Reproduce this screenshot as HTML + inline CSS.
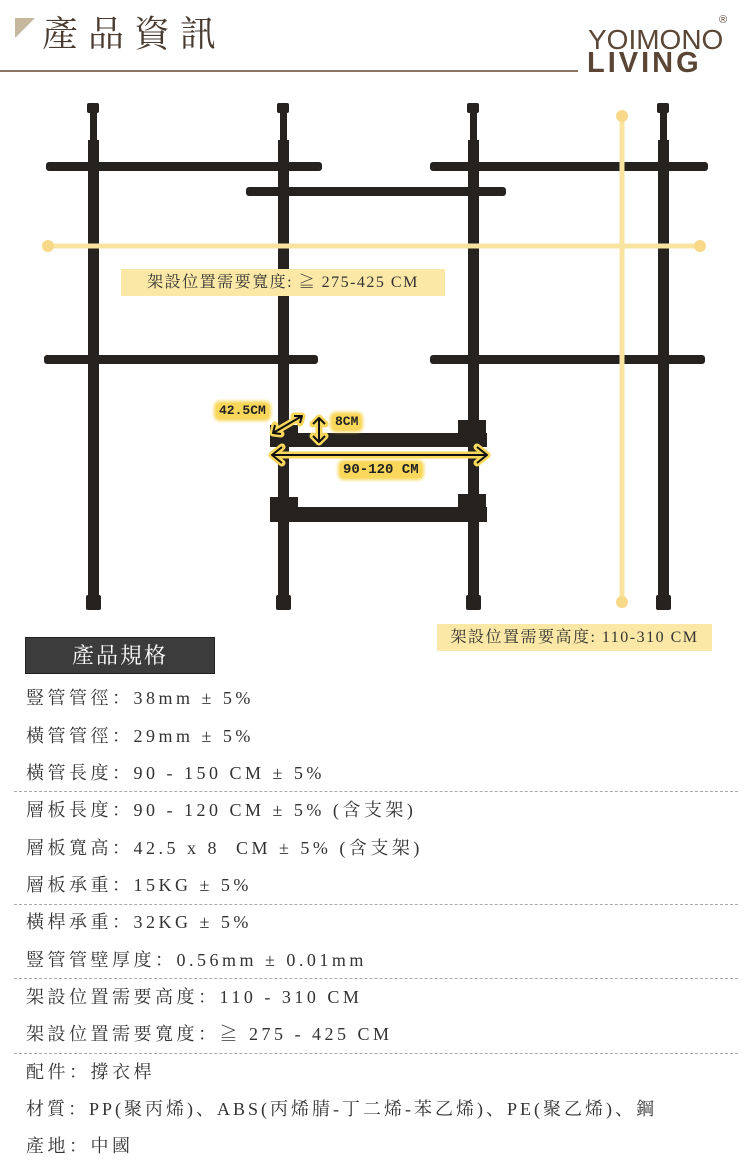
<!DOCTYPE html>
<html><head><meta charset="utf-8"><style>
body{margin:0;width:750px;height:1172px;background:#fff;position:relative;overflow:hidden;font-family:"Liberation Serif","Noto Serif CJK SC",serif}
.a{position:absolute}
.spec{position:absolute;left:26px;font-size:18px;color:#333;letter-spacing:3.5px;white-space:nowrap;line-height:20px}
.dash{position:absolute;left:14px;width:724px;border-top:1px dashed #aaa;height:0}
.lbl{position:absolute;background:#fbe8a6;color:#333;font-size:16px;letter-spacing:1.5px;line-height:27px;text-align:center}
.ylab{position:absolute;font-family:"Liberation Mono","DejaVu Sans Mono",monospace;font-weight:bold;color:#222;background:#f8d75a;padding:0 3px;border-radius:4px;font-size:13px;line-height:16px;box-shadow:0 0 3px 2px #f8d75a}
</style></head><body>
<div class="a" style="left:15px;top:18px;width:0;height:0;border-top:20px solid #c6b89f;border-right:20px solid transparent"></div>
<div class="a" style="left:42px;top:12px;font-size:36px;color:#4a3b30;letter-spacing:10px;line-height:44px">產品資訊</div>
<div class="a" style="left:0;top:70px;width:578px;height:2px;background:#8a7464"></div>
<div class="a" style="left:588px;top:28px;font-family:'Liberation Sans',sans-serif;color:#5b4636;font-size:28px;line-height:24px;letter-spacing:0px;transform:scaleX(1.0);transform-origin:left">YOIMONO</div>
<div class="a" style="left:587px;top:51px;font-family:'Liberation Sans',sans-serif;color:#5b4636;font-size:29px;line-height:24px;letter-spacing:3px;font-weight:bold">LIVING</div>
<div class="a" style="left:719px;top:14px;font-size:11px;color:#5b4636;font-family:'Liberation Sans',sans-serif">®</div>

<svg class="a" style="left:0;top:0" width="750" height="630">
<g fill="#262220">
<g id="p">
<rect x="87" y="103" width="12" height="10" rx="2"/><rect x="90" y="110" width="7" height="500"/><rect x="88" y="140" width="11" height="470"/><rect x="86" y="595" width="15" height="15" rx="2"/>
</g>
<use href="#p" x="190"/><use href="#p" x="380"/><use href="#p" x="570"/>
<rect x="46" y="162" width="276" height="9" rx="3"/>
<rect x="246" y="187" width="260" height="9" rx="3"/>
<rect x="430" y="162" width="278" height="9" rx="3"/>
<rect x="44" y="355" width="274" height="9" rx="3"/>
<rect x="430" y="355" width="275" height="9" rx="3"/>
<rect x="270" y="433" width="217" height="14"/>
<rect x="270" y="425" width="28" height="22"/><rect x="458" y="420" width="28" height="27"/>
<rect x="270" y="507" width="217" height="15"/>
<rect x="270" y="497" width="28" height="25"/><rect x="458" y="494" width="28" height="28"/>
</g>
<g stroke="#f8e4a0" stroke-width="5" fill="#f8e4a0">
<line x1="48" y1="246" x2="700" y2="246"/>
<line x1="622" y1="115" x2="622" y2="603"/>
</g>
<g fill="#f8d98a"><circle cx="48" cy="246" r="6"/><circle cx="700" cy="246" r="6"/><circle cx="622" cy="116" r="6"/><circle cx="622" cy="602" r="6"/></g>
<g stroke="#f8d75a" stroke-width="7" fill="none" stroke-linecap="round" stroke-linejoin="round">
<path d="M272 455H487M282 447L272 455L282 463M477 447L487 455L477 463"/>
<path d="M273 433L302 416M275 425L273 433L281 434M294 416L302 416L300 423"/>
<path d="M319 418V442M313 424L319 418L325 424M313 436L319 442L325 436"/>
</g>
<g stroke="#111" stroke-width="2" fill="none" stroke-linejoin="round">
<path d="M272 455H487M282 447L272 455L282 463M477 447L487 455L477 463"/>
<path d="M273 433L302 416M275 425L273 433L281 434M294 416L302 416L300 423"/>
<path d="M319 418V442M313 424L319 418L325 424M313 436L319 442L325 436"/>
</g>
</svg>
<div class="ylab" style="left:216px;top:403px">42.5CM</div>
<div class="ylab" style="left:332px;top:414px">8CM</div>
<div class="ylab" style="left:340px;top:462px;font-size:14px">90-120 CM</div>

<div class="lbl" style="left:121px;top:269px;width:324px;height:27px">架設位置需要寬度: ≧ 275-425 CM</div>
<div class="lbl" style="left:437px;top:624px;width:275px;height:27px">架設位置需要高度: 110-310 CM</div>

<div class="a" style="left:25px;top:637px;width:188px;height:35px;background:#3c3c3c;border:1px solid #222;color:#fff;font-size:22px;line-height:36px;text-align:center;letter-spacing:2px">產品規格</div>

<div class="spec" style="top:688px">豎管管徑：38mm ± 5%</div>
<div class="spec" style="top:726px">橫管管徑：29mm ± 5%</div>
<div class="spec" style="top:763px">橫管長度：90 - 150 CM ± 5%</div>
<div class="dash" style="top:791px"></div>
<div class="spec" style="top:800px">層板長度：90 - 120 CM ± 5% (含支架)</div>
<div class="spec" style="top:838px">層板寬高：42.5 x 8&nbsp; CM ± 5% (含支架)</div>
<div class="spec" style="top:875px">層板承重：15KG ± 5%</div>
<div class="dash" style="top:904px"></div>
<div class="spec" style="top:912px">橫桿承重：32KG ± 5%</div>
<div class="spec" style="top:950px">豎管管壁厚度：0.56mm ± 0.01mm</div>
<div class="dash" style="top:978px"></div>
<div class="spec" style="top:987px">架設位置需要高度：110 - 310 CM</div>
<div class="spec" style="top:1024px">架設位置需要寬度：≧ 275 - 425 CM</div>
<div class="dash" style="top:1053px"></div>
<div class="spec" style="top:1062px">配件：撐衣桿</div>
<div class="spec" style="top:1099px;letter-spacing:3px">材質：PP(聚丙烯)、ABS(丙烯腈-丁二烯-苯乙烯)、PE(聚乙烯)、鋼</div>
<div class="spec" style="top:1136px">產地：中國</div>
</body></html>
